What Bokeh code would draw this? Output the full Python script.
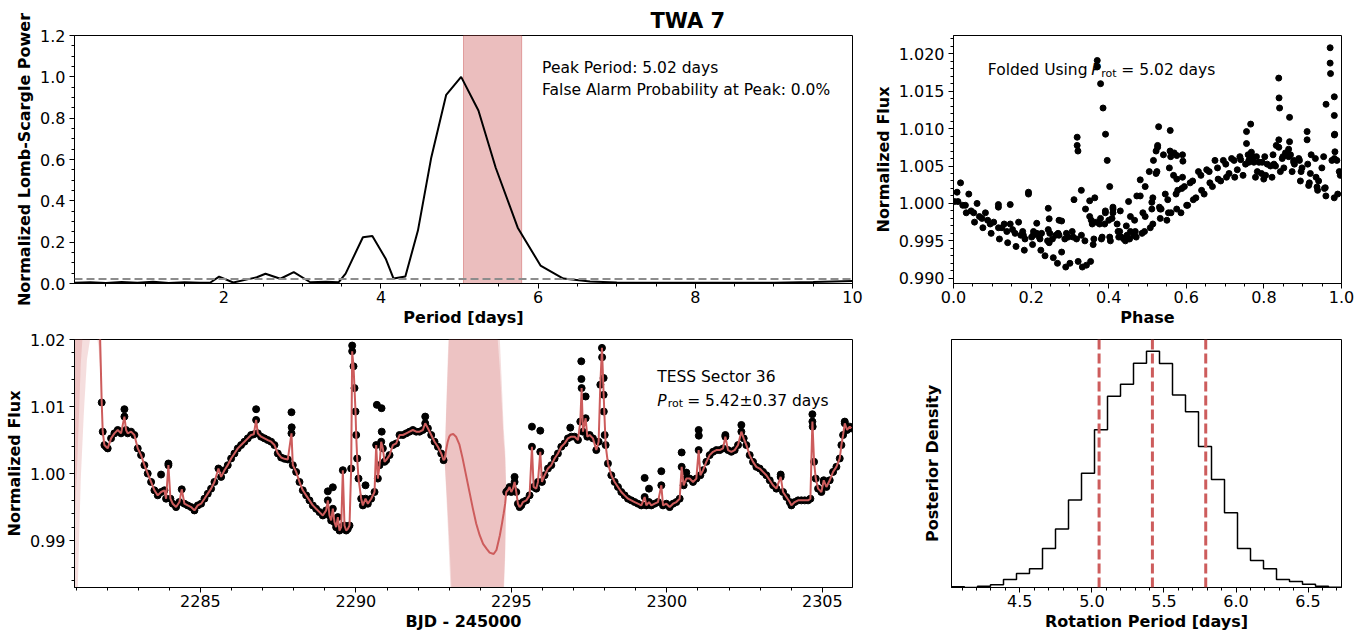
import numpy as np
from bokeh.plotting import figure
from bokeh.layouts import column, row
from bokeh.models import Label, Span, BoxAnnotation, FixedTicker, NumeralTickFormatter, Range1d
from bokeh.embed import file_html
from bokeh.resources import INLINE

FONT = "DejaVu Sans"
RED = "#cd5c5c"

# ---------------- Lomb-Scargle periodogram ----------------
period = [0.1, 0.3, 0.5, 0.7, 0.9, 1.1, 1.3, 1.5, 1.7, 1.83, 1.94, 2.12, 2.3, 2.42, 2.53,
          2.72, 2.89, 3.1, 3.3, 3.46, 3.55, 3.77, 3.89, 4.06, 4.16, 4.31, 4.47, 4.64, 4.83,
          5.02, 5.24, 5.46, 5.74, 6.03, 6.32, 6.66, 7.0, 7.5, 8.0, 8.5, 9.0, 9.5, 10.0]
power = [0.004, 0.006, 0.003, 0.007, 0.004, 0.008, 0.003, 0.006, 0.004, 0.005, 0.033, 0.005,
         0.02, 0.03, 0.047, 0.023, 0.055, 0.006, 0.008, 0.006, 0.048, 0.224, 0.23, 0.12, 0.024,
         0.034, 0.256, 0.61, 0.913, 1.0, 0.837, 0.56, 0.27, 0.087, 0.024, 0.01, 0.005, 0.004,
         0.004, 0.004, 0.004, 0.007, 0.012]
fap_level = 0.022
peak_period = 5.02
fap_peak = 0.0
prot_med = 5.42
prot_err = 0.37

# ---------------- TESS light curve (segment 1) ----------------
seg1_t = [2281.825, 2281.858, 2281.911, 2281.965, 2282.018, 2282.126, 2282.233, 2282.340, 2282.447,
          2282.555, 2282.608, 2282.662, 2282.769, 2282.876, 2282.984, 2283.091, 2283.198, 2283.305,
          2283.413, 2283.520, 2283.627, 2283.734, 2283.842, 2283.895, 2283.970, 2284.035, 2284.110,
          2284.217, 2284.324, 2284.399, 2284.485, 2284.592, 2284.700, 2284.807, 2284.914, 2285.021,
          2285.129, 2285.236, 2285.343, 2285.450, 2285.579, 2285.665, 2285.772, 2285.879, 2285.987,
          2286.094, 2286.201, 2286.308, 2286.416, 2286.523, 2286.630, 2286.716, 2286.791, 2286.845,
          2286.952, 2287.059, 2287.166, 2287.274, 2287.381, 2287.488, 2287.595, 2287.703, 2287.810,
          2287.928, 2287.971, 2288.078, 2288.185, 2288.292, 2288.400, 2288.507, 2288.614, 2288.721,
          2288.829, 2288.936, 2289.043, 2289.097, 2289.150, 2289.204, 2289.258, 2289.311, 2289.365,
          2289.419, 2289.472, 2289.526, 2289.579, 2289.633, 2289.687, 2289.740, 2289.794, 2289.848,
          2289.880, 2289.923, 2289.955, 2289.987, 2290.009, 2290.041, 2290.084, 2290.170, 2290.223,
          2290.309, 2290.384, 2290.491, 2290.599, 2290.652, 2290.706, 2290.760, 2290.813, 2290.867,
          2290.921, 2290.974, 2291.082, 2291.189, 2291.296, 2291.403, 2291.511, 2291.618, 2291.725,
          2291.832, 2291.940, 2292.047, 2292.154, 2292.229, 2292.315, 2292.422, 2292.529, 2292.637,
          2292.744, 2292.819]
seg1_f = [1.0106, 1.00625, 1.00425, 1.0040, 1.00375, 1.00525, 1.0060, 1.0065, 1.0060,
          1.0085, 1.0065, 1.0060, 1.00625, 1.00575, 1.00375, 1.00275, 1.00125, 1.0000,
          0.99875, 0.9975, 0.99675, 0.99725, 0.9975, 0.99625, 1.00125, 0.99625, 0.9955,
          0.9950, 0.99575, 0.99765, 0.9955, 0.99525, 0.9950, 0.9945, 0.99525, 0.9955,
          0.99625, 0.9970, 0.99775, 0.99875, 1.00075, 0.9995, 1.0005, 1.00125, 1.00225,
          1.0030, 1.00375, 1.00425, 1.00475, 1.00525, 1.00575, 1.00585, 1.0080, 1.0060,
          1.0055, 1.00525, 1.0050, 1.00475, 1.00425, 1.0030, 1.0024, 1.0022, 1.0021,
          1.0060, 1.00125, 1.00025, 0.99875, 0.9975, 0.99675, 0.9960, 0.99525, 0.99475,
          0.99425, 0.99375, 0.9945, 0.9960, 0.99375, 0.9930, 0.99475, 0.99275, 0.9920,
          0.9935, 0.9915, 0.9920, 1.0005, 0.99225, 0.9915, 0.99175, 0.99225, 1.00075,
          1.01825, 1.0160, 1.01275, 1.00925, 1.00575, 1.00225, 0.99925, 0.99625, 0.99525,
          0.99625, 0.9955, 0.99625, 0.99725, 1.00425, 0.99925, 1.00125, 1.00475, 1.00375,
          1.00175, 1.0020, 1.00275, 1.00425, 1.0045, 1.00575, 1.00575, 1.0060, 1.00625,
          1.0065, 1.00625, 1.00625, 1.0065, 1.0075, 1.00675, 1.00575, 1.00475, 1.0040,
          1.0030, 1.0020]

# ---------------- TESS light curve (segment 2) ----------------
seg2_t = [2294.835, 2294.888, 2294.942, 2294.996, 2295.049, 2295.103, 2295.157, 2295.210, 2295.264,
          2295.318, 2295.371, 2295.479, 2295.586, 2295.661, 2295.715, 2295.801, 2295.854, 2295.929,
          2295.983, 2296.069, 2296.176, 2296.283, 2296.390, 2296.497, 2296.605, 2296.712, 2296.819,
          2296.926, 2297.034, 2297.141, 2297.216, 2297.259, 2297.302, 2297.388, 2297.441, 2297.516,
          2297.623, 2297.731, 2297.806, 2297.860, 2297.913, 2297.967, 2298.031, 2298.106, 2298.214,
          2298.321, 2298.428, 2298.535, 2298.642, 2298.750, 2298.857, 2298.964, 2299.071, 2299.179,
          2299.286, 2299.340, 2299.425, 2299.500, 2299.608, 2299.715, 2299.822, 2299.876, 2299.983,
          2300.090, 2300.198, 2300.305, 2300.412, 2300.476, 2300.540, 2300.626, 2300.733, 2300.841,
          2300.948, 2301.023, 2301.077, 2301.163, 2301.270, 2301.377, 2301.484, 2301.592, 2301.699,
          2301.806, 2301.881, 2301.967, 2302.074, 2302.181, 2302.289, 2302.396, 2302.471, 2302.557,
          2302.664, 2302.771, 2302.878, 2302.986, 2303.093, 2303.200, 2303.308, 2303.415, 2303.522,
          2303.661, 2303.736, 2303.844, 2303.951, 2304.005, 2304.112, 2304.219, 2304.326, 2304.434,
          2304.541, 2304.616, 2304.680, 2304.734, 2304.788, 2304.863, 2304.970, 2305.045, 2305.131,
          2305.238, 2305.345, 2305.452, 2305.560, 2305.613, 2305.667, 2305.721, 2305.796, 2305.882,
          2305.935]
seg2_f = [0.99725, 0.9975, 0.9980, 0.99725, 0.99775, 0.99875, 0.99725, 0.9955, 0.9950,
          0.99525, 0.99575, 0.9960, 0.99675, 1.0040, 0.9980, 0.99775, 0.99875, 1.00325,
          0.99875, 0.99975, 1.00075, 1.00125, 1.00225, 1.0030, 1.0040, 1.0045, 1.00525,
          1.0055, 1.0055, 1.0050, 1.00775, 1.01275, 1.00625, 1.00825, 1.0055, 1.00575,
          1.00525, 1.0035, 1.00475, 1.01325, 1.01875, 1.01175, 1.00425, 1.0015, 0.99975,
          0.99875, 0.9980, 0.99725, 0.99675, 0.99625, 0.9960, 0.99575, 0.9955, 0.99525,
          0.9965, 0.99525, 0.99575, 0.99525, 0.9955, 0.99575, 0.99825, 0.99525, 0.9955,
          0.9950, 0.9955, 0.99575, 0.99625, 1.0010, 0.99825, 0.99925, 0.99925, 0.99875,
          0.99925, 1.0035, 0.99975, 1.0005, 1.00175, 1.00275, 1.00325, 1.0035, 1.0035,
          1.00375, 1.0055, 1.0035, 1.00325, 1.0035, 1.00425, 1.00625, 1.00525, 1.00425,
          1.00275, 1.00175, 1.0010, 1.00075, 1.00025, 0.99975, 0.9990, 0.99825, 0.99775,
          0.9995, 0.99725, 0.9965, 0.99575, 0.99525, 0.99575, 0.9960, 0.9960, 0.9960,
          0.9960, 0.99625, 1.00775, 1.00175, 0.99925, 0.99775, 0.99725, 0.9990, 0.9980,
          0.9990, 1.00025, 1.0010, 1.00225, 1.00425, 1.00575, 1.0075, 1.0065, 1.0070,
          1.00675]

# flare points lying above the GP prediction
flare_t = [2282.555, 2283.734, 2283.970, 2286.791, 2287.928, 2287.935, 2289.097, 2289.258, 2289.880,
           2290.309, 2290.674, 2290.824, 2290.830, 2292.229, 2295.103, 2295.661, 2295.929, 2296.894,
           2297.248, 2297.252, 2297.388, 2297.913, 2297.918, 2297.967, 2297.972, 2298.000, 2299.286,
           2299.425, 2299.822, 2300.476, 2300.626, 2301.023, 2301.028, 2301.881, 2302.396, 2303.661,
           2304.680, 2304.690, 2305.045, 2305.721]
flare_f = [1.0096, 0.99985, 1.0015, 1.0096, 1.00915, 1.0069, 0.99735, 0.99795, 1.0191,
           0.99825, 1.01025, 1.00975, 1.00625, 1.0085, 0.9995, 1.0070, 1.0064, 1.00685,
           1.01675, 1.0141, 1.0115, 1.0208, 1.01735, 1.01425, 1.00925, 1.00575, 0.99935,
           0.99775, 1.00035, 1.00315, 1.00015, 1.0065, 1.00565, 1.00575, 1.00725, 0.99985,
           1.00885, 1.0070, 0.99875, 1.00775]

# GP prediction before the data start and across the mid-sector gap
gp_pre_t = [2280.95, 2281.05, 2281.15, 2281.25, 2281.35, 2281.45, 2281.55, 2281.65, 2281.72, 2281.78]
gp_pre_mean = [1.128, 1.122, 1.114, 1.104, 1.092, 1.078, 1.062, 1.045, 1.031, 1.019]
gp_pre_err = [0.16, 0.14, 0.115, 0.095, 0.075, 0.058, 0.04, 0.024, 0.012, 0.004]

gp_gap_t = [2292.86, 2292.9, 2292.95, 2293.0, 2293.05, 2293.13, 2293.22, 2293.33, 2293.43, 2293.54,
            2293.65, 2293.76, 2293.87, 2293.98, 2294.09, 2294.2, 2294.3, 2294.43, 2294.52, 2294.63,
            2294.7, 2294.75, 2294.8]
gp_gap_mean = [1.0022, 1.0035, 1.0047, 1.0055, 1.0058, 1.0059, 1.0055, 1.0043, 1.0023, 0.9998,
               0.9973, 0.9948, 0.9925, 0.9908, 0.9895, 0.9888, 0.9882, 0.9880, 0.9886, 0.9908,
               0.9926, 0.9940, 0.9955]
gp_gap_err = [0.001, 0.006, 0.012, 0.018, 0.024, 0.035, 0.04, 0.045, 0.048, 0.05,
              0.05, 0.05, 0.05, 0.05, 0.05, 0.05, 0.049, 0.045, 0.04, 0.029,
              0.02, 0.013, 0.008]
inner_band_scale = 0.85

fold_period = 5.02
fold_epoch = 2283.0

# ---------------- Posterior of rotation period ----------------
hist_counts = [2, 0, 4, 8, 24, 42, 56, 117, 175, 262, 342, 472, 572, 608, 671,
               707, 670, 576, 526, 422, 323, 224, 117, 81, 56, 24, 18, 10, 4, 1]
hist_lo, hist_hi = 4.026, 6.732

# ---------------- tick values ----------------
tl_xticks = [2, 4, 6, 8, 10]
tl_yticks = [0.0, 0.2, 0.4, 0.6, 0.8, 1.0, 1.2]
tr_xticks = [0.0, 0.2, 0.4, 0.6, 0.8, 1.0]
tr_yticks = [0.990, 0.995, 1.000, 1.005, 1.010, 1.015, 1.020]
bl_xticks = [2285, 2290, 2295, 2300, 2305]
bl_yticks = [0.99, 1.00, 1.01, 1.02]
br_xticks = [4.5, 5.0, 5.5, 6.0, 6.5]

TXT = "16px"


def make_fig(w, h, xr, yr, left, right, top, bottom):
    p = figure(width=w, height=h, x_range=Range1d(*xr), y_range=Range1d(*yr),
               output_backend="svg", toolbar_location=None,
               min_border_left=left, min_border_right=right,
               min_border_top=top, min_border_bottom=bottom)
    p.xgrid.visible = False
    p.ygrid.visible = False
    p.outline_line_color = "black"
    p.outline_line_width = 1
    p.outline_line_alpha = 1
    p.background_fill_color = "white"
    p.border_fill_color = "white"
    return p


def style_axis(ax, ticks, minor, fmt, label, vertical=False):
    ax.ticker = FixedTicker(ticks=ticks, minor_ticks=minor)
    ax.formatter = NumeralTickFormatter(format=fmt)
    ax.axis_label = label
    ax.axis_line_color = "black"
    ax.major_tick_line_color = "black"
    ax.minor_tick_line_color = "black"
    ax.major_tick_out = 5
    ax.major_tick_in = 0
    ax.minor_tick_out = 3
    ax.minor_tick_in = 0
    ax.major_label_text_font = FONT
    ax.major_label_text_font_size = TXT
    ax.major_label_text_color = "black"
    ax.major_label_standoff = 4 if vertical else 2
    ax.axis_label_text_font = FONT
    ax.axis_label_text_font_size = TXT
    ax.axis_label_text_font_style = "bold"
    ax.axis_label_text_color = "black"
    ax.axis_label_standoff = 3 if vertical else 2


def add_text(p, x, y, text, size="15.5px", style="normal", align="left", xo=0, yo=0):
    p.add_layout(Label(x=x, y=y, text=text, text_font=FONT, text_font_size=size,
                       text_font_style=style, text_align=align, text_baseline="alphabetic",
                       x_offset=xo, y_offset=yo, text_color="black"))


# ======== top-left: periodogram (carries the figure title) ========
p1 = make_fig(870, 329, (0.1, 10), (0, 1.2), 74, 18, 35, 46)
p1.title.text = "TWA 7"
p1.title.align = "left"
p1.title.offset = 576
p1.title.standoff = 6
p1.title.text_font = FONT
p1.title.text_font_size = "21px"
p1.title.text_font_style = "bold"
p1.title.text_color = "black"
style_axis(p1.xaxis[0], tl_xticks, list(np.arange(0.5, 10.01, 0.5)), "0", "Period [days]")
style_axis(p1.yaxis[0], tl_yticks, list(np.arange(0.0, 1.201, 0.05)), "0.0",
           "Normalized Lomb-Scargle Power", vertical=True)
p1.add_layout(BoxAnnotation(left=prot_med - prot_err, right=prot_med + prot_err,
                            fill_color=RED, fill_alpha=0.4, line_color=RED, line_alpha=0.5,
                            line_width=1, level="underlay"))
p1.line(period, power, line_color="black", line_width=2)
p1.add_layout(Span(location=fap_level, dimension="width", line_color="#8c8c8c",
                   line_width=2, line_dash="8 4"))
add_text(p1, 6.05, 1.045, f"Peak Period: {peak_period:.2f} days")
add_text(p1, 6.05, 0.934, f"False Alarm Probability at Peak: {fap_peak:.1f}%")

# ======== top-right: folded light curve ========
all_t = np.array(seg1_t + seg2_t + flare_t)
all_f = np.array(seg1_f + seg2_f + flare_f)
phase = ((all_t - fold_epoch) / fold_period) % 1.0

p2 = make_fig(500, 329, (0.0, 1.0), (0.9893, 1.02244), 81, 29, 35, 46)
style_axis(p2.xaxis[0], tr_xticks, list(np.arange(0.0, 1.001, 0.05)), "0.0", "Phase")
style_axis(p2.yaxis[0], tr_yticks, list(np.arange(0.989, 1.0225, 0.001)), "0.000",
           "Normalized Flux", vertical=True)
p2.scatter(phase, all_f, size=6, fill_color="black", line_color="black")
add_text(p2, 0.0885, 1.01777, "Folded Using")
add_text(p2, 0.0885, 1.01777, "P", style="italic", xo=103.5)
add_text(p2, 0.0885, 1.01777, "rot", size="11px", xo=113.5, yo=-3)
add_text(p2, 0.0885, 1.01777, f"= {fold_period:.2f} days", xo=133.5)

# ======== bottom-left: light curve with GP ========
p3 = make_fig(870, 307, (2280.95, 2305.97), (0.983, 1.02), 74, 18, 10, 49)
style_axis(p3.xaxis[0], bl_xticks, list(np.arange(2281, 2306.5, 1)), "0", "BJD - 245000")
style_axis(p3.yaxis[0], bl_yticks, list(np.arange(0.984, 1.0201, 0.002)), "0.00",
           "Normalized Flux", vertical=True)

band_a_t = np.array(gp_pre_t + [seg1_t[0]])
band_a_m = np.array(gp_pre_mean + [seg1_f[0]])
band_a_e = np.array(gp_pre_err + [0.0])
band_b_t = np.array([seg1_t[-1]] + gp_gap_t + [seg2_t[0]])
band_b_m = np.array([seg1_f[-1]] + gp_gap_mean + [seg2_f[0]])
band_b_e = np.array([0.0] + gp_gap_err + [0.0])
for bt, bm, be in ((band_a_t, band_a_m, band_a_e), (band_b_t, band_b_m, band_b_e)):
    p3.varea(x=bt, y1=bm - be, y2=bm + be, fill_color=RED, fill_alpha=0.2)
    p3.varea(x=bt, y1=bm - inner_band_scale * be, y2=bm + inner_band_scale * be,
             fill_color=RED, fill_alpha=0.2)

p3.scatter(seg1_t + seg2_t + flare_t, seg1_f + seg2_f + flare_f, size=7,
           fill_color="black", line_color="black")
gp_t = gp_pre_t + seg1_t + gp_gap_t + seg2_t
gp_f = gp_pre_mean + seg1_f + gp_gap_mean + seg2_f
p3.line(gp_t, gp_f, line_color=RED, line_width=2)
add_text(p3, 2299.688, 1.0144, "TESS Sector 36")
add_text(p3, 2299.688, 1.01085, "P", style="italic")
add_text(p3, 2299.688, 1.01085, "rot", size="11px", xo=10.5, yo=-3)
add_text(p3, 2299.688, 1.01085, f"= {prot_med:.2f}\u00b1{prot_err:.2f} days", xo=30)

# ======== bottom-right: posterior histogram ========
p4 = make_fig(500, 307, (hist_lo, hist_hi), (0, 742), 81, 29, 10, 49)
style_axis(p4.xaxis[0], br_xticks, list(np.arange(4.1, 6.71, 0.1)), "0.0",
           "Rotation Period [days]")
style_axis(p4.yaxis[0], [], [], "0", "Posterior Density", vertical=True)
p4.yaxis[0].major_tick_out = 0
p4.yaxis[0].minor_tick_out = 0
p4.yaxis[0].axis_label_standoff = 10
edges = np.linspace(hist_lo, hist_hi, len(hist_counts) + 1)
step_x = np.repeat(edges, 2)
step_y = np.concatenate([[0], np.repeat(hist_counts, 2), [0]])
p4.line(step_x, step_y, line_color="black", line_width=1.5)
for loc in (prot_med - prot_err, prot_med, prot_med + prot_err):
    p4.add_layout(Span(location=loc, dimension="height", line_color=RED, line_width=3,
                       line_dash="10 4"))

layout = column(row(p1, p2), row(p3, p4))
open("out.html", "w").write(file_html(layout, INLINE, title="TWA 7"))
